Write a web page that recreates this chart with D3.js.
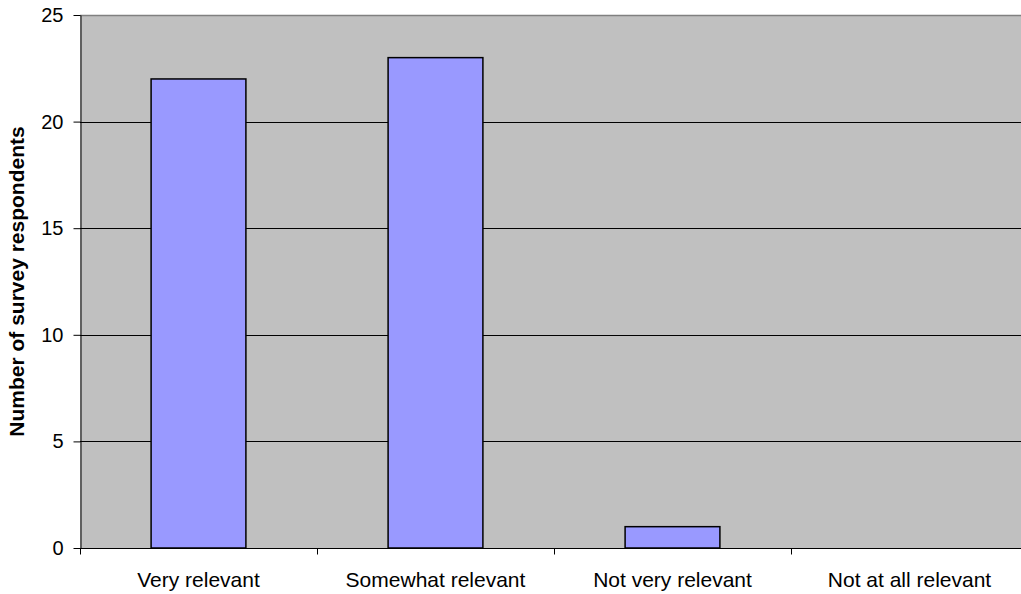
<!DOCTYPE html>
<html>
<head>
<meta charset="utf-8">
<script src="https://cdn.jsdelivr.net/npm/d3@7/dist/d3.min.js"></script>
<style>
  html, body { margin: 0; padding: 0; background: #fff; overflow: hidden; }
  svg { display: block; font-family: "Liberation Sans", Arial, sans-serif; }
</style>
</head>
<body>
<svg id="chart" width="1021" height="594"></svg>
<script>
// Survey: how relevant respondents found the topic
const categories = ["Very relevant", "Somewhat relevant", "Not very relevant", "Not at all relevant"];
const respondents = [22, 23, 1, 0];
const yTicks = [0, 5, 10, 15, 20, 25];
const yTitle = "Number of survey respondents";

const svg = d3.select("#chart");
const margin = { left: 80, top: 15, right: -7, bottom: 46 };
const W = 1021, H = 594;
const x0 = margin.left, x1 = W - margin.right;
const y0 = H - margin.bottom, y1 = margin.top;

const x = d3.scaleBand().domain(categories).range([x0, x1]).paddingInner(0.6).paddingOuter(0.3);
const xCat = d3.scaleBand().domain(categories).range([x0, x1]);
const y = d3.scaleLinear().domain([0, 25]).range([y0, y1]);

// plot background
svg.append("rect")
  .attr("x", x0).attr("y", y1)
  .attr("width", x1 - x0).attr("height", y0 - y1)
  .attr("fill", "#c0c0c0");

// horizontal gridlines
svg.append("g")
  .selectAll("line")
  .data(yTicks.filter(d => d > 0 && d < 25))
  .join("line")
  .attr("x1", x0).attr("x2", x1)
  .attr("y1", d => Math.round(y(d)) + 0.5).attr("y2", d => Math.round(y(d)) + 0.5)
  .attr("stroke", "#000").attr("stroke-width", 1);

// top border of plot area
svg.append("line")
  .attr("x1", x0).attr("x2", x1)
  .attr("y1", y1 + 0.5).attr("y2", y1 + 0.5)
  .attr("stroke", "#808080").attr("stroke-width", 1.5);

// bars
svg.append("g")
  .selectAll("rect")
  .data(categories.map((c, i) => ({ c, v: respondents[i] })).filter(d => d.v > 0))
  .join("rect")
  .attr("x", d => x(d.c))
  .attr("y", d => y(d.v))
  .attr("width", x.bandwidth())
  .attr("height", d => y(0) - y(d.v))
  .attr("fill", "#9999ff")
  .attr("stroke", "#000")
  .attr("stroke-width", 1.5);

// y axis
const yAxis = svg.append("g")
  .attr("transform", `translate(${x0 + 0.5},0)`)
  .call(d3.axisLeft(y).tickValues(yTicks).tickSize(7).tickPadding(10).tickSizeOuter(0));
yAxis.select(".domain").attr("stroke", "#000").attr("stroke-width", 1);
yAxis.selectAll(".tick line").attr("stroke", "#000");
yAxis.selectAll(".tick text")
  .attr("font-size", "20px")
  .attr("font-family", "Liberation Sans, Arial, sans-serif")
  .attr("fill", "#000");

// x axis with category separators
const xAxis = svg.append("g")
  .attr("transform", `translate(0,${Math.round(y0) + 0.5})`);
xAxis.append("line")
  .attr("x1", x0).attr("x2", x1)
  .attr("stroke", "#000").attr("stroke-width", 1);
xAxis.selectAll("line.sep")
  .data(categories)
  .join("line")
  .attr("class", "sep")
  .attr("x1", d => Math.round(xCat(d)) + 0.5)
  .attr("x2", d => Math.round(xCat(d)) + 0.5)
  .attr("y1", 0).attr("y2", 6)
  .attr("stroke", "#000");
xAxis.selectAll("text")
  .data(categories)
  .join("text")
  .attr("x", d => xCat(d) + xCat.bandwidth() / 2)
  .attr("y", 38)
  .attr("text-anchor", "middle")
  .attr("font-size", "21px")
  .attr("fill", "#000")
  .text(d => d);

// y axis title
svg.append("text")
  .attr("transform", `translate(24,${(y0 + y1) / 2}) rotate(-90)`)
  .attr("text-anchor", "middle")
  .attr("font-size", "21px")
  .attr("font-weight", "bold")
  .attr("fill", "#000")
  .text(yTitle);
</script>
</body>
</html>
